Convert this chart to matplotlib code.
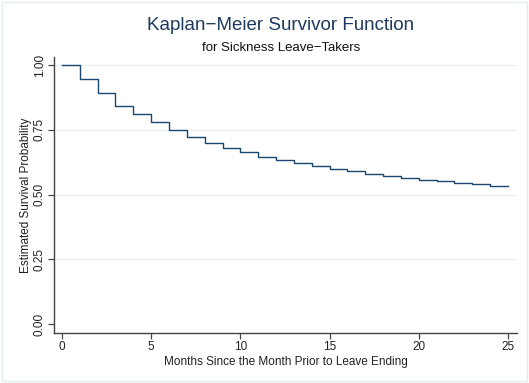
import matplotlib.pyplot as plt
from matplotlib.patches import Rectangle

plt.rcParams['font.family'] = ['Liberation Sans', 'DejaVu Sans']

# Kaplan-Meier estimate, one step per month
months = list(range(0, 26))
survival = [1.000, 0.946, 0.893, 0.843, 0.810, 0.780, 0.750, 0.723, 0.700,
            0.678, 0.663, 0.646, 0.632, 0.620, 0.609, 0.598, 0.589, 0.580,
            0.571, 0.565, 0.557, 0.552, 0.546, 0.539, 0.534, 0.534]

xticks = [0, 5, 10, 15, 20, 25]
yticks = [0.0, 0.25, 0.5, 0.75, 1.0]
ytick_labels = ['0.00', '0.25', '0.50', '0.75', '1.00']

navy = '#1a476f'
grid_col = '#e8eff2'
axis_col = '#444444'

fig = plt.figure(figsize=(5.29, 3.83), dpi=100)
fig.patches.append(Rectangle((0.004, 0.004), 0.992, 0.992, transform=fig.transFigure,
                             fill=False, edgecolor='#e3ecee', linewidth=1.0))
ax = fig.add_axes([0.102, 0.1305, 0.875, 0.7205])

for y in yticks[1:]:
    ax.axhline(y, color=grid_col, linewidth=1.0, zorder=0)

ax.step(months, survival, where='post', color=navy, linewidth=1.0)

ax.set_xlim(-0.45, 25.5)
ax.set_ylim(-0.035, 1.031)
ax.set_xticks(xticks)
ax.set_yticks(yticks)
ax.set_yticklabels(ytick_labels, rotation=90, va='center')

for side in ['top', 'right']:
    ax.spines[side].set_visible(False)
for side in ['left', 'bottom']:
    ax.spines[side].set_color(axis_col)
    ax.spines[side].set_linewidth(1.0)
ax.tick_params(direction='out', length=4, width=0.9, color=axis_col,
               labelsize=8.5, labelcolor='#222222', pad=2)

ax.set_xlabel('Months Since the Month Prior to Leave Ending', fontsize=8.5,
              color='#222222', labelpad=2)
ax.set_ylabel('Estimated Survival Probability', fontsize=8.5, color='#222222',
              labelpad=1)

fig.text(0.531, 0.934, 'Kaplan\u2212Meier Survivor Function', ha='center',
         va='center', fontsize=13.5, color='#1e3a5f')
fig.text(0.531, 0.874, 'for Sickness Leave\u2212Takers', ha='center',
         va='center', fontsize=9.5, color='#111111')

fig.savefig('out.png', dpi=100)
